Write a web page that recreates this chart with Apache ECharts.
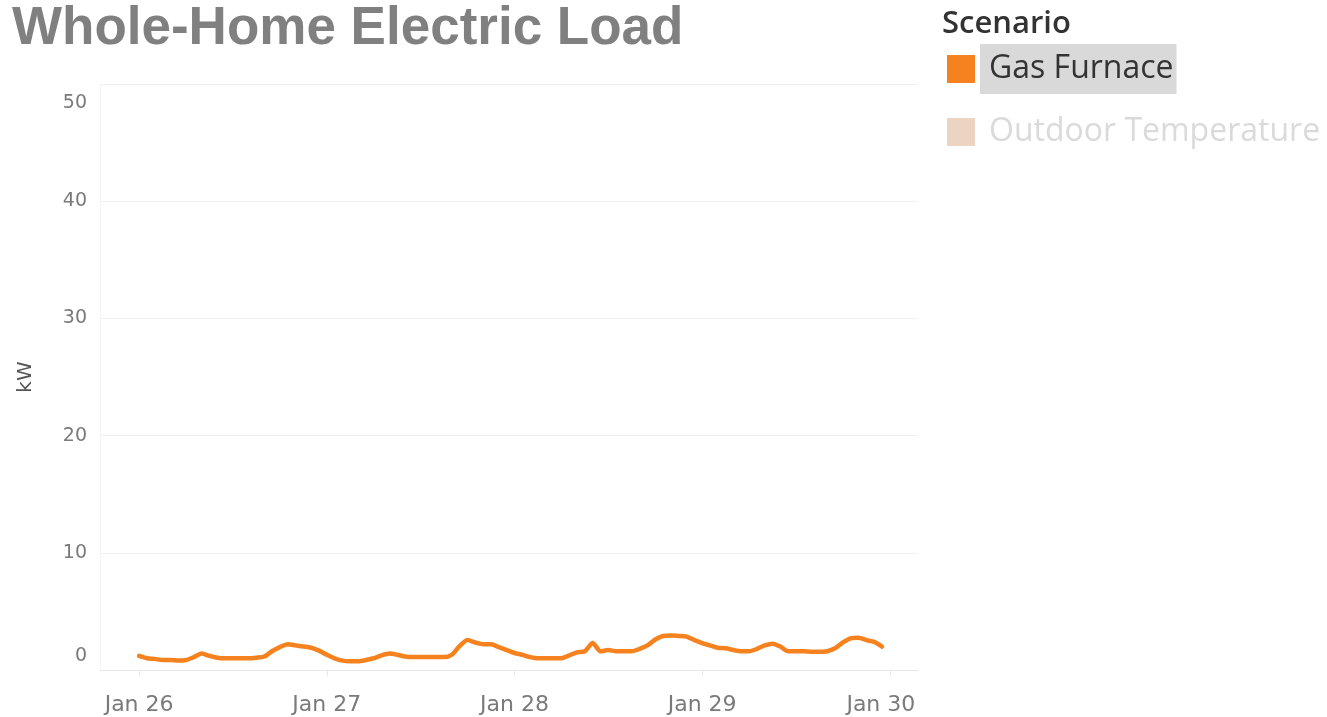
<!DOCTYPE html>
<html>
<head>
<meta charset="utf-8">
<title>Whole-Home Electric Load</title>
<script src="https://cdn.jsdelivr.net/npm/echarts@6/dist/echarts.min.js"></script>
<style>
  html, body { margin: 0; padding: 0; background: #ffffff; }
  #chart { width: 1327px; height: 717px; }
</style>
</head>
<body>
<div id="chart"></div>
<script>
// Hourly whole-home electric load (kW), Jan 26 00:00 through Jan 29 23:00
const gasFurnaceKw = [
  // Jan 26
  1.2, 1.0, 0.95, 0.85, 0.85, 0.8, 0.85, 1.1, 1.4, 1.2, 1.05, 1.0,
  1.0, 1.0, 1.0, 1.05, 1.15, 1.6, 1.95, 2.2, 2.1, 2.0, 1.9, 1.65,
  // Jan 27
  1.3, 1.0, 0.8, 0.75, 0.75, 0.85, 1.0, 1.25, 1.4, 1.3, 1.15, 1.1,
  1.1, 1.1, 1.1, 1.1, 1.3, 2.05, 2.55, 2.35, 2.2, 2.2, 1.95, 1.7,
  // Jan 28
  1.45, 1.3, 1.1, 1.0, 1.0, 1.0, 1.0, 1.25, 1.5, 1.6, 2.3, 1.6,
  1.7, 1.6, 1.6, 1.6, 1.8, 2.1, 2.6, 2.9, 2.95, 2.9, 2.85, 2.55,
  // Jan 29
  2.3, 2.1, 1.9, 1.85, 1.7, 1.6, 1.6, 1.8, 2.1, 2.25, 2.0, 1.6,
  1.6, 1.6, 1.55, 1.55, 1.6, 1.85, 2.35, 2.7, 2.75, 2.55, 2.4, 2.0
];

const scenarioNames = ['Gas Furnace', 'Outdoor Temperature'];
const dayLabels = ['Jan 26', 'Jan 27', 'Jan 28', 'Jan 29', 'Jan 30'];
const yTicks = [0, 10, 20, 30, 40, 50];

// x values are hours since Jan 26 00:00
const HOURS_PER_DAY = 24;
const loadSeries = gasFurnaceKw.map((v, i) => [i, v]);
const dayTicks = dayLabels.map((_, i) => i * HOURS_PER_DAY);

const tickFont = 'DejaVu Sans';
const legendFont = 'Open Sans';
const tickColor = '#7a7a7a';

const chart = echarts.init(document.getElementById('chart'), null, { renderer: 'canvas' });

chart.setOption({
  animation: false,
  backgroundColor: '#ffffff',
  title: [
    {
      text: 'Whole-Home Electric Load',
      left: 7,
      top: -2,
      textStyle: {
        fontFamily: 'Liberation Sans',
        fontWeight: 'bold',
        fontSize: 53,
        color: '#808080'
      }
    },
    {
      text: 'Scenario',
      left: 937,
      top: 4,
      textStyle: {
        fontFamily: legendFont,
        fontWeight: 600,
        fontSize: 31,
        color: '#333333'
      }
    }
  ],
  legend: {
    orient: 'vertical',
    left: 947,
    top: 44,
    padding: 0,
    itemWidth: 28,
    itemHeight: 28,
    itemGap: 13,
    icon: 'rect',
    selectedMode: false,
    textStyle: {
      fontFamily: legendFont,
      fontSize: 32,
      lineHeight: 38,
      padding: [6, 3, 6, 9]
    },
    data: [
      {
        name: scenarioNames[0],
        itemStyle: { color: '#f5821f' },
        textStyle: { color: '#333333', backgroundColor: '#d9d9d9' }
      },
      {
        name: scenarioNames[1],
        itemStyle: { color: '#ecd4c3' },
        textStyle: { color: '#dadada', backgroundColor: 'transparent' }
      }
    ]
  },
  grid: {
    left: 100,
    right: 409,
    top: 84,
    bottom: 47,
    containLabel: false
  },
  xAxis: {
    type: 'value',
    min: -5,
    max: 4 * HOURS_PER_DAY + 3.6,
    axisLine: { show: true, lineStyle: { color: '#e6e6e6', width: 1 } },
    axisTick: {
      show: true,
      length: 6,
      customValues: dayTicks,
      lineStyle: { color: '#e8e8e8' }
    },
    splitLine: { show: false },
    axisLabel: {
      customValues: dayTicks,
      margin: 24,
      fontFamily: tickFont,
      fontSize: 22,
      color: tickColor,
      formatter: function (value) {
        const idx = Math.round(value / HOURS_PER_DAY);
        const label = dayLabels[idx] || '';
        return idx === dayLabels.length - 1 ? '{last|' + label + '}' : label;
      },
      rich: {
        last: {
          fontFamily: tickFont,
          fontSize: 22,
          color: tickColor,
          padding: [0, 18, 0, 0]
        }
      }
    }
  },
  yAxis: {
    type: 'value',
    min: 0,
    max: 50,
    interval: 10,
    name: 'kW',
    nameLocation: 'middle',
    nameRotate: 90,
    nameGap: 64,
    nameTextStyle: {
      fontFamily: tickFont,
      fontSize: 20,
      color: '#555555'
    },
    axisLine: { show: true, onZero: false, lineStyle: { color: '#f3f3f3', width: 1 } },
    axisTick: { show: false },
    splitLine: { show: true, lineStyle: { color: '#efefef', width: 1 } },
    axisLabel: {
      margin: 13,
      fontFamily: tickFont,
      fontSize: 19,
      color: tickColor,
      formatter: function (value) {
        if (value === yTicks[yTicks.length - 1]) return '{top|' + value + '}';
        if (value === yTicks[0]) return '{bot|' + value + '}';
        return String(value);
      },
      rich: {
        top: { fontFamily: tickFont, fontSize: 19, color: tickColor, padding: [38, 0, 0, 0] },
        bot: { fontFamily: tickFont, fontSize: 19, color: tickColor, padding: [0, 0, 28, 0] }
      }
    }
  },
  series: [
    {
      name: scenarioNames[0],
      type: 'line',
      data: loadSeries,
      showSymbol: false,
      symbol: 'none',
      smooth: 0.25,
      lineStyle: { color: '#f5821f', width: 4.5, cap: 'round', join: 'round' },
      itemStyle: { color: '#f5821f' }
    },
    {
      name: scenarioNames[1],
      type: 'line',
      data: [],
      showSymbol: false,
      lineStyle: { color: '#ecd4c3' },
      itemStyle: { color: '#ecd4c3' }
    }
  ]
});
</script>
</body>
</html>
